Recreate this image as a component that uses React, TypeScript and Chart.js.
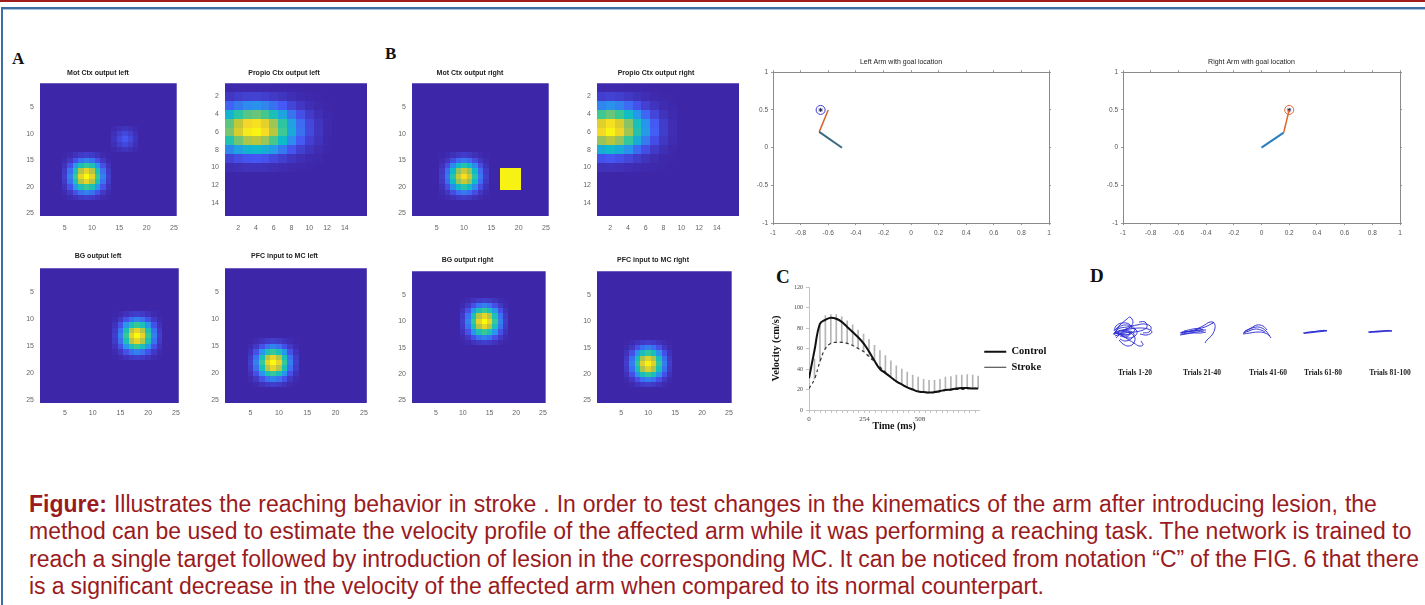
import React, { useEffect, useRef } from "react";
import { Chart, registerables } from "chart.js";
Chart.register(...registerables);

const SANS = '"Liberation Sans", Arial, sans-serif';
const SERIF = '"Liberation Serif", "Times New Roman", serif';

// ---------------- colour map (parula) ----------------
const parulaStops = [
  [62, 38, 168], [70, 88, 245], [40, 150, 235], [14, 187, 200], [55, 200, 151],
  [140, 196, 100], [200, 200, 50], [245, 215, 40], [249, 251, 14],
];
function parula(v: number) {
  const t = Math.max(0, Math.min(1, v)) * (parulaStops.length - 1);
  const i = Math.min(parulaStops.length - 2, Math.floor(t));
  const f = t - i;
  const a = parulaStops[i], b = parulaStops[i + 1];
  return `rgb(${Math.round(a[0] + (b[0] - a[0]) * f)},${Math.round(a[1] + (b[1] - a[1]) * f)},${Math.round(a[2] + (b[2] - a[2]) * f)})`;
}

// ---------------- heat-map data ----------------
const ticks25 = [5, 10, 15, 20, 25];
const ticks15 = [2, 4, 6, 8, 10, 12, 14];
const roundProfile = [0.06, 0.21, 0.5, 0.84, 1, 0.84, 0.5, 0.21, 0.06];
const faintProfile = [0.3, 0.7, 1, 0.7, 0.3];
const propioLeftX = [0.61, 0.81, 0.96, 1, 0.91, 0.73, 0.52, 0.32, 0.18, 0.09, 0.04, 0.01];
const propioLeftY = [0.01, 0.07, 0.24, 0.57, 0.91, 0.98, 0.72, 0.36, 0.12, 0.03];
const propioRightX = [0.9, 1, 0.88, 0.68, 0.45, 0.27, 0.14, 0.06, 0.02];
const propioRightY = [0.01, 0.07, 0.24, 0.57, 0.91, 0.98, 0.72, 0.36, 0.12, 0.03];

const motLeftBlobs = [
  { col0: 5, row0: 14, amp: 1, xp: roundProfile, yp: roundProfile },
  { col0: 14, row0: 9, amp: 0.12, xp: faintProfile, yp: faintProfile },
];
const propioLeftBlobs = [{ col0: 1, row0: 1, amp: 1, xp: propioLeftX, yp: propioLeftY }];
const motRightBlobs = [{ col0: 6, row0: 14, amp: 0.9, xp: roundProfile, yp: roundProfile }];
const motRightBlocks = [{ c1: 17, c2: 20, r1: 17, r2: 20, v: 0.97 }];
const propioRightBlobs = [{ col0: 1, row0: 1, amp: 1, xp: propioRightX, yp: propioRightY }];
const bgLeftBlobs = [{ col0: 14, row0: 9, amp: 1, xp: roundProfile, yp: roundProfile }];
const pfcLeftBlobs = [{ col0: 5, row0: 14, amp: 1, xp: roundProfile, yp: roundProfile }];
const bgRightBlobs = [{ col0: 10, row0: 6, amp: 1, xp: roundProfile, yp: roundProfile }];
const pfcRightBlobs = [{ col0: 6, row0: 14, amp: 0.97, xp: roundProfile, yp: roundProfile }];

// ---------------- arm data ----------------
const armXTicks = [-1, -0.8, -0.6, -0.4, -0.2, 0, 0.2, 0.4, 0.6, 0.8, 1];
const armXLabels = ["-1", "-0.8", "-0.6", "-0.4", "-0.2", "0", "0.2", "0.4", "0.6", "0.8", "1"];
const armYTicks = [-1, -0.5, 0, 0.5, 1];
const armYLabels = ["-1", "-0.5", "0", "0.5", "1"];
const leftUpperArm = [{ x: -0.5, y: 0 }, { x: -0.665, y: 0.21 }];
const leftForearm = [{ x: -0.665, y: 0.21 }, { x: -0.6, y: 0.5 }];
const leftGoal = [{ x: -0.655, y: 0.5 }];
const rightUpperArm = [{ x: 0, y: 0 }, { x: 0.16, y: 0.2 }];
const rightForearm = [{ x: 0.16, y: 0.2 }, { x: 0.2, y: 0.5 }];
const rightGoal = [{ x: 0.2, y: 0.5 }];

// ---------------- velocity profile (panel C) ----------------
const velTime = [0, 25, 50, 75, 100, 125, 150, 175, 200, 225, 250, 275, 300, 325, 350, 375, 400, 425, 450, 475, 500, 525, 550, 575, 600, 625, 650, 675, 700, 725, 750, 775];
const controlVel = [31, 58, 84, 88, 90, 89, 86, 81, 76, 71, 65, 57, 48, 40, 36, 32, 28, 25, 22, 20, 18, 17.5, 17, 17.5, 18.5, 19.5, 20, 21, 21.5, 21.5, 21, 21];
const strokeVel = [21, 30, 47, 60, 65, 66, 66, 65, 63, 60, 57, 52, 47, 42, 37, 32, 28, 25, 22, 20, 18, 17, 17, 17, 18, 19, 19.5, 20, 20, 20.5, 21, 21];
const strokeErr = [5, 20, 35, 32, 28, 27, 25, 22, 20, 18, 17, 17, 16, 16, 16, 16, 15, 15, 15, 14, 14, 13, 12, 12, 12, 13, 13, 14, 14, 14, 13, 12];
const velXTickLabels = [0, 254, 508];

// ---------------- trajectories (panel D) ----------------
const trials1to20 = [
  [[30, 28], [34, 33], [40, 35], [46, 34], [50, 31], [47, 27], [40, 25], [33, 26], [30, 28]],
  [[29, 25], [33, 31], [42, 33], [52, 35], [60, 36], [66, 33], [64, 28], [58, 27]],
  [[31, 22], [37, 27], [44, 29], [49, 26], [46, 21], [40, 19], [35, 21]],
  [[30, 30], [36, 36], [42, 41], [45, 43], [48, 38], [45, 33], [38, 29]],
  [[32, 27], [38, 24], [44, 20], [49, 17], [54, 14], [58, 15], [56, 19]],
  [[28, 26], [35, 29], [45, 31], [55, 32], [63, 31], [67, 28], [62, 25], [55, 26]],
  [[33, 24], [39, 30], [46, 32], [52, 29], [50, 24], [43, 22], [36, 25]],
  [[29, 29], [31, 34], [37, 37], [44, 36], [47, 32]],
  [[34, 20], [38, 16], [43, 14], [48, 16], [50, 22], [46, 27]],
  [[30, 24], [40, 27], [50, 28], [58, 30], [62, 33], [60, 38], [54, 38]],
  [[29, 27], [33, 29], [38, 30], [43, 29], [46, 27], [42, 25], [36, 26], [31, 27]],
  [[30, 26], [35, 28], [41, 28], [45, 26], [41, 23], [35, 24]],
];
const trials21to40 = [
  [[95, 27], [102, 28], [110, 29], [117, 30], [121, 30]],
  [[96, 26], [104, 27], [112, 28], [119, 29]],
  [[97, 28], [105, 29], [113, 31], [120, 33], [126, 36], [129, 38], [127, 36]],
  [[110, 30], [118, 34], [125, 38], [129, 37], [130, 32], [127, 25], [122, 20], [120, 17]],
  [[95, 25], [101, 26], [108, 27], [116, 27], [121, 28]],
  [[99, 29], [108, 31], [116, 32]],
  [[96, 27.5], [103, 28.5], [111, 29.5], [118, 30.5]],
];
const trials41to60 = [
  [[158, 27], [164, 29], [170, 31], [176, 30], [180, 28]],
  [[159, 28], [165, 31], [171, 33], [177, 32], [181, 29], [184, 25], [186, 22]],
  [[160, 29], [166, 32], [172, 35], [178, 34], [182, 30]],
  [[158, 26], [165, 27], [173, 28], [180, 27], [185, 24]],
];
const trials61to80 = [
  [[218, 27], [226, 28], [234, 29], [242, 29.5]],
  [[219, 26.5], [228, 27.5], [237, 28.5], [242, 29]],
  [[220, 27.5], [230, 28.5], [240, 29.8]],
];
const trials81to100 = [
  [[283, 28], [291, 28.5], [299, 29], [307, 29.3]],
  [[284, 27.5], [293, 28], [302, 28.8], [307, 28.8]],
  [[285, 28.3], [295, 29], [305, 29.6]],
];
const trialTickPos = [50, 117, 183, 238, 305];
const trialLabels = ["Trials 1-20", "Trials 21-40", "Trials 41-60", "Trials 61-80", "Trials 81-100"];

// ---------------- helpers ----------------
function buildCells(nx: number, ny: number, blobs: any[], blocks: any[]) {
  const cells: any[] = [];
  for (let r = 1; r <= ny; r++) {
    for (let c = 1; c <= nx; c++) {
      let v = 0;
      for (const b of blobs) {
        const xi = c - b.col0, yi = r - b.row0;
        if (xi >= 0 && xi < b.xp.length && yi >= 0 && yi < b.yp.length) v += b.amp * b.xp[xi] * b.yp[yi];
      }
      for (const k of blocks) if (c >= k.c1 && c <= k.c2 && r >= k.r1 && r <= k.r2) v = Math.max(v, k.v);
      cells.push({ x: c, y: r, v: Math.min(1, v) });
    }
  }
  return cells;
}

const heatmapPlugin = {
  id: "heatCells",
  beforeDatasetsDraw(chart: any) {
    const { ctx, chartArea, scales } = chart;
    const xs = scales.x, ys = scales.y;
    const data = chart.data.datasets[0].data;
    ctx.save();
    ctx.beginPath();
    ctx.rect(chartArea.left, chartArea.top, chartArea.right - chartArea.left, chartArea.bottom - chartArea.top);
    ctx.clip();
    for (const c of data) {
      const xa = Math.round(xs.getPixelForValue(c.x - 0.5)), xb = Math.round(xs.getPixelForValue(c.x + 0.5));
      const ya = Math.round(ys.getPixelForValue(c.y - 0.5)), yb = Math.round(ys.getPixelForValue(c.y + 0.5));
      ctx.fillStyle = parula(c.v);
      ctx.fillRect(Math.min(xa, xb), Math.min(ya, yb), Math.abs(xb - xa), Math.abs(yb - ya));
    }
    ctx.restore();
  },
};

function useChart(makeConfig: () => any) {
  const ref = useRef<HTMLCanvasElement>(null);
  useEffect(() => {
    const chart = new Chart(ref.current as HTMLCanvasElement, makeConfig());
    return () => chart.destroy();
  }, []);
  return ref;
}

function Heatmap(p: any) {
  const AX_W = 24, AX_H = 18, PAD_R = 6;
  const head = p.gap + 4.2;
  const cw = AX_W + p.w + PAD_R;
  const chRaw = head + p.h + AX_H;
  const ch = Math.ceil(chRaw);
  const ref = useChart(() => ({
    type: "scatter",
    data: { datasets: [{ data: buildCells(p.nx, p.ny, p.blobs, p.blocks || []), pointRadius: 0, pointHoverRadius: 0 }] },
    options: {
      responsive: false, animation: false, devicePixelRatio: 1, events: [],
      layout: { padding: { top: 0, left: 0, right: PAD_R, bottom: ch - chRaw } },
      plugins: {
        legend: { display: false }, tooltip: { enabled: false },
        title: { display: true, text: p.title, color: "#222", font: { size: 7, weight: "bold", family: SANS, lineHeight: 1.2 }, padding: { top: 0, bottom: p.gap - 4.2 } },
      },
      scales: {
        x: {
          type: "linear", min: 0.5, max: p.nx + 0.5,
          afterBuildTicks: (s: any) => { s.ticks = p.ticksX.map((v: number) => ({ value: v })); },
          afterFit: (s: any) => { s.height = AX_H; },
          grid: { display: false, drawTicks: false }, border: { display: false },
          ticks: { font: { size: 7, family: SANS }, color: "#666", padding: p.xPad, maxRotation: 0, autoSkip: false },
        },
        y: {
          type: "linear", reverse: true, min: 0.5, max: p.ny + 0.5,
          afterBuildTicks: (s: any) => { s.ticks = p.ticksY.map((v: number) => ({ value: v })); },
          afterFit: (s: any) => { s.width = AX_W; },
          grid: { display: false, drawTicks: false }, border: { display: false },
          ticks: { font: { size: 7, family: SANS }, color: "#666", padding: 6, autoSkip: false },
        },
      },
    },
    plugins: [heatmapPlugin],
  }));
  return <canvas ref={ref} width={cw} height={ch} style={{ position: "absolute", left: p.left - AX_W, top: p.top - head, width: cw, height: ch }} />;
}

function ArmPlot(p: any) {
  const AX_W = 20, AX_H = 16, PAD_R = 8;
  const head = p.gap + 4.2;
  const cw = AX_W + p.w + PAD_R;
  const chRaw = head + p.h + AX_H;
  const ch = Math.ceil(chRaw);
  const axisCommon = { grid: { drawOnChartArea: false, tickLength: 2, color: "#999" }, border: { color: "#8a8a8a" } };
  const ref = useChart(() => ({
    type: "scatter",
    data: {
      datasets: [
        { data: p.upper, showLine: true, borderColor: p.upperColor, borderWidth: 2, pointRadius: 0 },
        { data: p.fore, showLine: true, borderColor: p.foreColor, borderWidth: 1.5, pointRadius: 0 },
        { data: p.goal, pointStyle: "circle", pointRadius: 4.5, borderColor: p.goalColor, borderWidth: 1, backgroundColor: "rgba(0,0,0,0)" },
        { data: p.goal, pointStyle: "star", pointRadius: 2, borderColor: "#22264a", borderWidth: 1 },
      ],
    },
    options: {
      responsive: false, animation: false, devicePixelRatio: 1, events: [],
      layout: { padding: { top: 0, left: 0, right: PAD_R, bottom: ch - chRaw } },
      plugins: {
        legend: { display: false }, tooltip: { enabled: false },
        title: { display: true, text: p.title, color: "#222", font: { size: 7, weight: "normal", family: SANS, lineHeight: 1.2 }, padding: { top: 0, bottom: p.gap - 4.2 } },
      },
      scales: {
        x: {
          type: "linear", min: -1, max: 1, ...axisCommon,
          afterBuildTicks: (s: any) => { s.ticks = armXTicks.map((v) => ({ value: v })); },
          afterFit: (s: any) => { s.height = AX_H; },
          ticks: { font: { size: 6.5, family: SANS }, color: "#555", padding: 4, maxRotation: 0, autoSkip: false, callback: (v: number) => armXLabels[armXTicks.indexOf(v)] },
        },
        x2: {
          type: "linear", position: "top", min: -1, max: 1, ...axisCommon,
          afterBuildTicks: (s: any) => { s.ticks = armXTicks.map((v) => ({ value: v })); },
          afterFit: (s: any) => { s.height = 0; },
          ticks: { display: false },
        },
        y: {
          type: "linear", min: -1, max: 1, ...axisCommon,
          afterBuildTicks: (s: any) => { s.ticks = armYTicks.map((v) => ({ value: v })); },
          afterFit: (s: any) => { s.width = AX_W; },
          ticks: { font: { size: 6.5, family: SANS }, color: "#555", padding: 3, autoSkip: false, callback: (v: number) => armYLabels[armYTicks.indexOf(v)] },
        },
        y2: {
          type: "linear", position: "right", min: -1, max: 1, ...axisCommon,
          afterBuildTicks: (s: any) => { s.ticks = armYTicks.map((v) => ({ value: v })); },
          afterFit: (s: any) => { s.width = 0; },
          ticks: { display: false },
        },
      },
    },
  }));
  return <canvas ref={ref} width={cw} height={ch} style={{ position: "absolute", left: p.left - AX_W, top: p.top - head, width: cw, height: ch }} />;
}

function VelocityChart() {
  const left = 770, top = 280, cw = 283, ch = 152;
  const ref = useChart(() => {
    const minorTicks: number[] = [];
    for (let i = 0; i <= 30; i++) minorTicks.push(i * 25.4);
    return {
      type: "line",
      data: {
        datasets: [
          {
            type: "bar", label: "err",
            data: velTime.map((t, i) => ({ x: t, y: [strokeVel[i], strokeVel[i] + strokeErr[i]] })),
            backgroundColor: "#b4b4b4", barThickness: 1, order: 3,
          },
          { label: "Control", data: velTime.map((t, i) => ({ x: t, y: controlVel[i] })), borderColor: "#111", borderWidth: 2, pointRadius: 0, tension: 0.4, order: 1 },
          { label: "Stroke", data: velTime.map((t, i) => ({ x: t, y: strokeVel[i] })), borderColor: "#333", borderWidth: 1.2, borderDash: [3, 3], pointRadius: 0, tension: 0.4, order: 2 },
        ],
      },
      options: {
        responsive: false, animation: false, devicePixelRatio: 1, events: [],
        layout: { padding: { top: 7, left: 0, right: 4, bottom: 0 } },
        plugins: {
          tooltip: { enabled: false },
          legend: {
            position: "right",
            labels: {
              filter: (it: any) => it.text !== "err",
              usePointStyle: true, pointStyle: "line", pointStyleWidth: 22, boxWidth: 22, boxHeight: 8,
              color: "#111", font: { size: 10.5, weight: "bold", family: SERIF }, padding: 5,
            },
          },
        },
        scales: {
          x: {
            type: "linear", min: 0, max: 780, offset: false,
            afterBuildTicks: (s: any) => { s.ticks = minorTicks.map((v) => ({ value: v })); },
            afterFit: (s: any) => { s.height = 22; },
            grid: { drawOnChartArea: false, tickLength: 3, color: "#c4c4c4", offset: false },
            border: { color: "#c4c4c4" },
            ticks: {
              autoSkip: false, maxRotation: 0, padding: 2, color: "#444", font: { size: 7, family: SERIF },
              callback: (v: number) => { const m = velXTickLabels.find((l) => Math.abs(l - v) < 1); return m === undefined ? "" : String(m); },
            },
            title: { display: true, text: "Time (ms)", color: "#111", font: { size: 10, weight: "bold", family: SERIF }, padding: { top: 0, bottom: 0 } },
          },
          y: {
            min: 0, max: 120,
            afterFit: (s: any) => { s.width = 39; },
            grid: { drawOnChartArea: false, tickLength: 3, color: "#c4c4c4" },
            border: { color: "#c4c4c4" },
            ticks: { stepSize: 20, padding: 3, color: "#444", font: { size: 6, family: SERIF } },
            title: { display: true, text: "Velocity (cm/s)", color: "#111", font: { size: 10.5, weight: "bold", family: SERIF }, padding: { top: 0, bottom: 0 } },
          },
        },
      },
    };
  });
  return <canvas ref={ref} width={cw} height={ch} style={{ position: "absolute", left, top, width: cw, height: ch }} />;
}

function TrajectoryChart() {
  const left = 1085, top = 300, cw = 340, ch = 80;
  const ref = useChart(() => {
    const groups = [trials1to20, trials21to40, trials41to60, trials61to80, trials81to100];
    const datasets = groups.flatMap((g) =>
      g.map((tr) => ({
        data: tr.map(([x, y]) => ({ x, y })), showLine: true,
        borderColor: "rgba(40,40,210,0.9)", borderWidth: 1, pointRadius: 0, tension: 0.4,
      }))
    );
    return {
      type: "scatter",
      data: { datasets },
      options: {
        responsive: false, animation: false, devicePixelRatio: 1, events: [],
        layout: { padding: 0 },
        plugins: { legend: { display: false }, tooltip: { enabled: false } },
        scales: {
          x: {
            type: "linear", min: 0, max: 340,
            afterBuildTicks: (s: any) => { s.ticks = trialTickPos.map((v) => ({ value: v })); },
            afterFit: (s: any) => { s.height = 20; },
            grid: { display: false, drawTicks: false }, border: { display: false },
            ticks: { autoSkip: false, maxRotation: 0, padding: 9, color: "#222", font: { size: 7.5, weight: "bold", family: SERIF }, callback: (v: number) => trialLabels[trialTickPos.indexOf(v)] },
          },
          y: { type: "linear", min: 0, max: 60, display: false },
        },
      },
    };
  });
  return <canvas ref={ref} width={cw} height={ch} style={{ position: "absolute", left, top, width: cw, height: ch }} />;
}

const heatPanels = [
  { title: "Mot Ctx output left", left: 40, top: 83, w: 140, h: 133, gap: 10, nx: 25, ny: 25, ticksX: ticks25, ticksY: ticks25, blobs: motLeftBlobs, xPad: 8 },
  { title: "Propio Ctx output left", left: 225, top: 83, w: 142, h: 133, gap: 10, nx: 16, ny: 15, ticksX: ticks15, ticksY: ticks15, blobs: propioLeftBlobs, xPad: 8 },
  { title: "Mot Ctx output right", left: 412, top: 83, w: 140, h: 133, gap: 10, nx: 25, ny: 25, ticksX: ticks25, ticksY: ticks25, blobs: motRightBlobs, blocks: motRightBlocks, xPad: 8 },
  { title: "Propio Ctx output right", left: 597, top: 83, w: 142, h: 133, gap: 10, nx: 16, ny: 15, ticksX: ticks15, ticksY: ticks15, blobs: propioRightBlobs, xPad: 8 },
  { title: "BG output left", left: 40, top: 268, w: 140, h: 135, gap: 12, nx: 25, ny: 25, ticksX: ticks25, ticksY: ticks25, blobs: bgLeftBlobs, xPad: 6 },
  { title: "PFC input to MC left", left: 225, top: 268, w: 143, h: 135, gap: 12, nx: 25, ny: 25, ticksX: ticks25, ticksY: ticks25, blobs: pfcLeftBlobs, xPad: 6 },
  { title: "BG output right", left: 412, top: 271, w: 135, h: 132, gap: 11, nx: 25, ny: 25, ticksX: ticks25, ticksY: ticks25, blobs: bgRightBlobs, xPad: 6 },
  { title: "PFC input to MC right", left: 597, top: 271, w: 136, h: 132, gap: 11, nx: 25, ny: 25, ticksX: ticks25, ticksY: ticks25, blobs: pfcRightBlobs, xPad: 6 },
];

const panelLetter = (t: string, left: number, top: number, size: number) => (
  <div style={{ position: "absolute", left, top, font: `bold ${size}px ${SERIF}`, lineHeight: "1", color: "#111" }}>{t}</div>
);

export default function App() {
  return (
    <div style={{ position: "fixed", left: 0, top: 0, width: 1425, height: 605, background: "#fff", overflow: "hidden" }}>
      <div style={{ position: "absolute", left: 0, top: 0, width: 1425, height: 2, background: "#a01c1c" }} />
      <div style={{ position: "absolute", left: 1, top: 7, width: 1424, height: 2, background: "#3f6ea3" }} />
      <div style={{ position: "absolute", left: 3, top: 9, width: 1422, height: 1, background: "#a9c0dc" }} />
      <div style={{ position: "absolute", left: 1, top: 7, width: 2, height: 598, background: "#3f6ea3" }} />
      {panelLetter("A", 12, 50, 17)}
      {panelLetter("B", 385, 45, 17)}
      {panelLetter("C", 776, 267, 19)}
      {panelLetter("D", 1090, 266, 19)}
      {heatPanels.map((p, i) => <Heatmap key={i} {...p} />)}
      <ArmPlot title="Left Arm with goal location" left={773} top={72} w={276} h={151} gap={10}
        upper={leftUpperArm} fore={leftForearm} goal={leftGoal} upperColor="#3b6b80" foreColor="#d9622b" goalColor="#3a3adf" />
      <ArmPlot title="Right Arm with goal location" left={1123} top={72} w={277} h={151} gap={10}
        upper={rightUpperArm} fore={rightForearm} goal={rightGoal} upperColor="#2a7fc0" foreColor="#e0652a" goalColor="#e86a3a" />
      <VelocityChart />
      <TrajectoryChart />
      <div style={{ position: "absolute", left: 29, top: 491, font: `23px ${SANS}`, lineHeight: "27.3px", color: "#9a1b1e", whiteSpace: "nowrap" }}>
        <div style={{ wordSpacing: "0.6px" }}><b>Figure:</b> Illustrates the reaching behavior in stroke . In order to test changes in the kinematics of the arm after introducing lesion, the</div>
        <div>method can be used to estimate the velocity profile of the affected arm while it was performing a reaching task. The network is trained to</div>
        <div style={{ wordSpacing: "-0.5px" }}>reach a single target followed by introduction of lesion in the corresponding MC. It can be noticed from notation “C” of the FIG. 6 that there</div>
        <div style={{ wordSpacing: "-0.3px" }}>is a significant decrease in the velocity of the affected arm when compared to its normal counterpart.</div>
      </div>
    </div>
  );
}
